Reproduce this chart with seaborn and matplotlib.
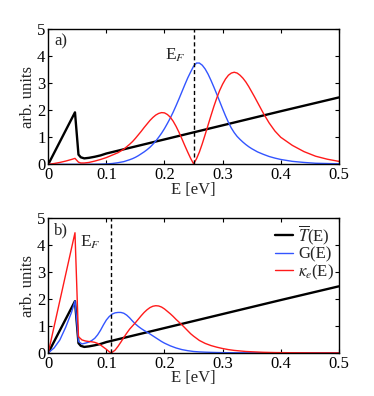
import numpy as np
import pandas as pd
import matplotlib
matplotlib.use("Agg")
import matplotlib.pyplot as plt
import seaborn as sns

# ---------------- data ----------------
# transmission (same in both panels)
E_T = [0, 0.046, 0.052, 0.056, 0.062, 0.07, 0.08, 0.09, 0.10, 0.15, 0.20,
       0.30, 0.40, 0.50]
T_E = [0, 1.92, 0.36, 0.26, 0.22, 0.24, 0.28, 0.33, 0.40, 0.66, 0.92,
       1.44, 1.96, 2.47]

# panel a)
E_a = [0, 0.01, 0.02, 0.03, 0.04, 0.046, 0.052, 0.056, 0.062, 0.07, 0.08,
       0.09, 0.10, 0.11, 0.12, 0.13, 0.14, 0.145, 0.15, 0.155, 0.16, 0.165,
       0.17, 0.175, 0.18, 0.185, 0.19, 0.195, 0.20, 0.205, 0.21, 0.215, 0.22,
       0.225, 0.23, 0.235, 0.24, 0.245, 0.25, 0.255, 0.26, 0.265, 0.27, 0.275,
       0.28, 0.285, 0.29, 0.295, 0.30, 0.305, 0.31, 0.315, 0.32, 0.325, 0.33,
       0.335, 0.34, 0.345, 0.35, 0.355, 0.36, 0.37, 0.38, 0.39, 0.40, 0.42,
       0.44, 0.46, 0.48, 0.50]
G_a = [0, 0, 0, 0, 0, 0, 0, 0, 0, 0, 0.003,
       0.007, 0.015, 0.03, 0.06, 0.10, 0.17, 0.21, 0.26, 0.32, 0.39, 0.46,
       0.54, 0.63, 0.74, 0.86, 1.00, 1.15, 1.32, 1.51, 1.71, 1.93, 2.17,
       2.42, 2.68, 2.94, 3.19, 3.41, 3.62, 3.74, 3.74, 3.66, 3.52, 3.33,
       3.10, 2.85, 2.59, 2.32, 2.05, 1.79, 1.55, 1.34, 1.17, 1.03, 0.92,
       0.82, 0.73, 0.65, 0.58, 0.52, 0.46, 0.37, 0.29, 0.23, 0.18, 0.11,
       0.07, 0.04, 0.03, 0.02]
K_a = [0, 0.03, 0.07, 0.12, 0.18, 0.22, 0.08, 0.05, 0.05, 0.07, 0.12,
       0.18, 0.25, 0.34, 0.43, 0.56, 0.74, 0.84, 0.96, 1.09, 1.22, 1.36,
       1.49, 1.62, 1.73, 1.82, 1.88, 1.91, 1.90, 1.84, 1.74, 1.59, 1.40,
       1.18, 0.94, 0.69, 0.45, 0.22, 0.02, 0.20, 0.45, 0.76, 1.10, 1.45,
       1.80, 2.14, 2.45, 2.73, 2.96, 3.15, 3.29, 3.37, 3.40, 3.37, 3.29,
       3.18, 3.04, 2.87, 2.68, 2.49, 2.29, 1.89, 1.53, 1.23, 1.00, 0.70,
       0.47, 0.30, 0.19, 0.11]

# panel b)
E_b = [0, 0.01, 0.02, 0.03, 0.04, 0.046, 0.052, 0.058, 0.064, 0.07, 0.075,
       0.08, 0.085, 0.09, 0.095, 0.10, 0.105, 0.108, 0.11, 0.115, 0.12, 0.125,
       0.13, 0.135, 0.14, 0.145, 0.15, 0.155, 0.16, 0.165, 0.17, 0.175, 0.18,
       0.185, 0.19, 0.195, 0.20, 0.205, 0.21, 0.215, 0.22, 0.225, 0.23, 0.235,
       0.24, 0.245, 0.25, 0.26, 0.27, 0.28, 0.29, 0.30, 0.31, 0.32, 0.33,
       0.34, 0.35, 0.36, 0.37, 0.38, 0.39, 0.40, 0.42, 0.44, 0.46, 0.48, 0.50]
G_b = [0, 0.18, 0.48, 0.95, 1.50, 1.93, 0.42, 0.33, 0.36, 0.40, 0.46,
       0.54, 0.67, 0.84, 1.04, 1.22, 1.35, 1.40, 1.44, 1.485, 1.50, 1.50,
       1.47, 1.40, 1.30, 1.18, 1.07, 0.98, 0.90, 0.83, 0.77, 0.70, 0.63,
       0.56, 0.49, 0.42, 0.36, 0.31, 0.26, 0.22, 0.18, 0.15, 0.12, 0.10,
       0.08, 0.065, 0.05, 0.035, 0.025, 0.018, 0.012, 0.008, 0.005, 0.003, 0.002,
       0.001, 0, 0, 0, 0, 0, 0, 0, 0, 0, 0, 0]
K_b = [0, 0.97, 1.94, 2.91, 3.88, 4.46, 0.60, 0.48, 0.44, 0.42, 0.41,
       0.39, 0.35, 0.29, 0.21, 0.13, 0.04, 0.0, 0.02, 0.10, 0.24, 0.40,
       0.57, 0.73, 0.88, 1.00, 1.12, 1.25, 1.38, 1.50, 1.60, 1.68, 1.73,
       1.75, 1.74, 1.70, 1.63, 1.54, 1.45, 1.35, 1.24, 1.14, 1.04, 0.93,
       0.82, 0.71, 0.62, 0.46, 0.35, 0.27, 0.21, 0.16, 0.12, 0.09, 0.07,
       0.05, 0.04, 0.03, 0.02, 0.015, 0.01, 0.008, 0.004, 0.002, 0, 0, 0]

EF_a = 0.25
EF_b = 0.108
labels = [r"$\overline{T}$(E)", "G(E)", r"$\kappa_e$(E)"]
colors = ["black", "#3355ff", "#ff1a1a"]
widths = [1.7, 1.0, 1.0]

# ---------------- style ----------------
sns.set_theme(style="ticks")
plt.rcParams["font.family"] = ["Liberation Serif", "DejaVu Serif"]
plt.rcParams["mathtext.fontset"] = "stix"
plt.rcParams["xtick.direction"] = "in"
plt.rcParams["ytick.direction"] = "in"
plt.rcParams["xtick.top"] = True
plt.rcParams["ytick.right"] = True
plt.rcParams["axes.linewidth"] = 1.0

FS = 12

fig = plt.figure(figsize=(3.74, 3.96), dpi=100)
ax_a = fig.add_axes([0.129, 0.585, 0.777, 0.342])
ax_b = fig.add_axes([0.129, 0.109, 0.777, 0.340])


def draw(ax, E, G, K, EF, tag, legend):
    dT = pd.DataFrame({"E": E_T, "v": T_E})
    dG = pd.DataFrame({"E": E, "v": G})
    dK = pd.DataFrame({"E": E, "v": K})
    for df, lab, c, w in zip([dT, dG, dK], labels, colors, widths):
        sns.lineplot(data=df, x="E", y="v", ax=ax, color=c, lw=w,
                     label=lab if legend else None, estimator=None)
    ax.axvline(EF, color="black", lw=1.0, ls=(0, (3, 2)))
    ax.set_xlim(0, 0.5)
    ax.set_ylim(0, 5)
    ax.set_xticks([0, 0.1, 0.2, 0.3, 0.4, 0.5])
    ax.set_xticklabels(["0", "0.1", "0.2", "0.3", "0.4", "0.5"])
    ax.set_yticks([0, 1, 2, 3, 4, 5])
    ax.tick_params(labelsize=FS, length=3, width=0.8, pad=2, colors="black")
    ax.set_xlabel("E [eV]", fontsize=FS, labelpad=-1)
    ax.set_ylabel("arb. units", fontsize=FS, labelpad=1)
    ax.text(0.02, 0.97, tag, transform=ax.transAxes, va="top", ha="left",
            fontsize=FS)
    for s in ax.spines.values():
        s.set_color("black")


draw(ax_a, E_a, G_a, K_a, EF_a, "a)", False)
draw(ax_b, E_b, G_b, K_b, EF_b, "b)", True)

ax_a.text(EF_a - 0.013, 3.85, r"E$_{F}$", ha="right", va="baseline",
          fontsize=12.5)
ax_b.text(EF_b - 0.017, 3.94, r"E$_{F}$", ha="right", va="baseline",
          fontsize=12.5)

leg = ax_b.legend(loc="upper right", frameon=False, fontsize=FS,
                  handlelength=1.1, handletextpad=0.3, labelspacing=0.0,
                  borderaxespad=0.1, borderpad=0.2)
if ax_a.get_legend() is not None:
    ax_a.get_legend().remove()

fig.savefig("out.png", dpi=100)
